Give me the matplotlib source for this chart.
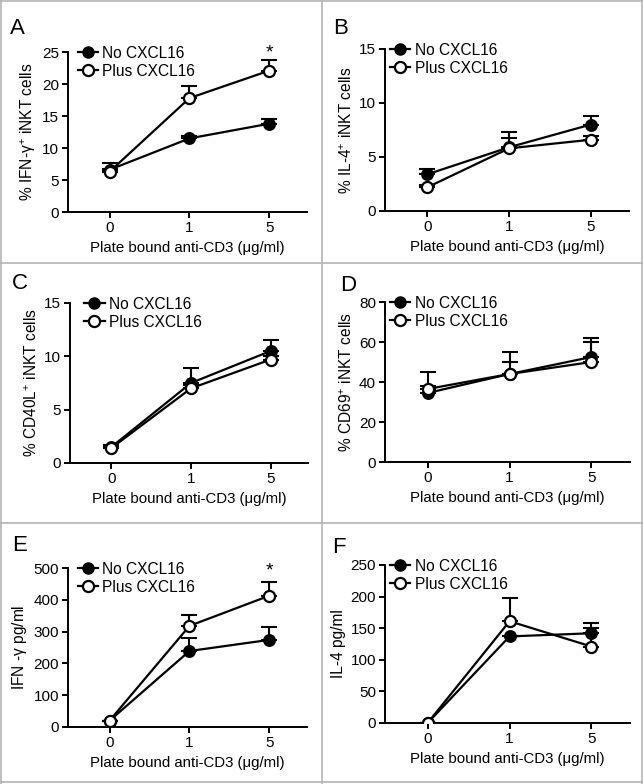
import matplotlib
matplotlib.use('Agg')
import matplotlib.pyplot as plt
from matplotlib.lines import Line2D

plt.rcParams['font.family'] = ['Liberation Sans', 'DejaVu Sans']
plt.rcParams['mathtext.fontset'] = 'custom'
plt.rcParams['mathtext.rm'] = 'Liberation Sans'
plt.rcParams['mathtext.it'] = 'Liberation Sans:italic'
plt.rcParams['mathtext.default'] = 'regular'

# data (mean, upper error)
doses = ['0', '1', '5']

a_no = [6.6, 11.5, 13.8]
a_no_err = [1.1, 0.3, 0.8]
a_plus = [6.3, 17.8, 22.1]
a_plus_err = [0.4, 1.9, 1.7]

b_no = [3.4, 5.9, 8.0]
b_no_err = [0.5, 1.4, 0.8]
b_plus = [2.2, 5.8, 6.6]
b_plus_err = [0.2, 1.0, 0.3]

c_no = [1.5, 7.5, 10.5]
c_no_err = [0.2, 1.4, 1.0]
c_plus = [1.4, 7.0, 9.7]
c_plus_err = [0.2, 0.3, 0.3]

d_no = [34.5, 44.0, 52.5]
d_no_err = [3.5, 11.0, 9.5]
d_plus = [36.5, 44.0, 50.0]
d_plus_err = [8.5, 6.0, 10.0]

e_no = [20, 239, 274]
e_no_err = [0, 40, 42]
e_plus = [20, 318, 413]
e_plus_err = [0, 35, 43]

f_no = [0, 137, 142]
f_no_err = [0, 0, 17]
f_plus = [0, 161, 121]
f_plus_err = [0, 36, 30]

W, H = 643, 784
fig = plt.figure(figsize=(W / 100, H / 100), dpi=100)


def px_axes(left, right, bottom, top):
    return fig.add_axes([left / W, 1 - bottom / H, (right - left) / W, (bottom - top) / H])


def panel(box, no, no_err, plus, plus_err, yticks, ylabel, leg_x, star=None):
    ax = px_axes(*box)
    x = list(range(len(doses)))
    ax.errorbar(x, no, yerr=[[0] * 3, no_err], fmt='none', ecolor='black',
                elinewidth=1.5, capsize=5.5, capthick=1.5, zorder=2)
    ax.errorbar(x, plus, yerr=[[0] * 3, plus_err], fmt='none', ecolor='black',
                elinewidth=1.5, capsize=5.5, capthick=1.5, zorder=2)
    ax.plot(x, no, color='black', lw=1.6, marker='o', ms=8,
            mfc='black', mec='black', mew=1.3, zorder=3)
    ax.plot(x, plus, color='black', lw=1.6, marker='o', ms=8,
            mfc='white', mec='black', mew=1.6, zorder=4)
    ax.set_xlim(-0.52, 2.47)
    ax.set_ylim(yticks[0], yticks[-1])
    ax.set_xticks(x)
    ax.set_xticklabels(doses)
    ax.set_yticks(yticks)
    for s in ['top', 'right']:
        ax.spines[s].set_visible(False)
    for s in ['left', 'bottom']:
        ax.spines[s].set_linewidth(1.4)
    ax.tick_params(direction='out', length=4.5, width=1.4, labelsize=11, pad=2)
    ax.set_xlabel('Plate bound anti-CD3 (\u03bcg/ml)', fontsize=10.8, labelpad=4)
    ax.set_ylabel(ylabel, fontsize=11.2, labelpad=3)
    ax.patch.set_alpha(0)

    handles = [
        Line2D([], [], color='black', lw=1.6, marker='o', ms=8, mfc='black', mec='black'),
        Line2D([], [], color='black', lw=1.6, marker='o', ms=8, mfc='white', mec='black', mew=1.6),
    ]
    ax.legend(handles, ['No CXCL16', 'Plus CXCL16'], loc='upper left',
              bbox_to_anchor=(leg_x, 1.04), frameon=False, fontsize=11.2,
              handlelength=1.3, handletextpad=0.3, labelspacing=0.2,
              borderaxespad=0, borderpad=0)
    if star is not None:
        ax.text(2, star, '*', ha='center', va='center', fontsize=14)
    return ax


panel((68, 307, 212, 52), a_no, a_no_err, a_plus, a_plus_err,
      [0, 5, 10, 15, 20, 25], '% IFN-$\\gamma^{+}$ iNKT cells', 0.04, star=24.9)
panel((385, 629, 211, 49), b_no, b_no_err, b_plus, b_plus_err,
      [0, 5, 10, 15], '% IL-4$^{+}$ iNKT cells', 0.02)
panel((70, 308, 463, 303), c_no, c_no_err, c_plus, c_plus_err,
      [0, 5, 10, 15], '% CD40L$^{+}$ iNKT cells', 0.06)
panel((385, 630, 462, 302), d_no, d_no_err, d_plus, d_plus_err,
      [0, 20, 40, 60, 80], '% CD69$^{+}$ iNKT cells', 0.02)
panel((68, 307, 727, 568), e_no, e_no_err, e_plus, e_plus_err,
      [0, 100, 200, 300, 400, 500], 'IFN -$\\gamma$ pg/ml', 0.04, star=492)
panel((385, 630, 723, 565), f_no, f_no_err, f_plus, f_plus_err,
      [0, 50, 100, 150, 200, 250], 'IL-4 pg/ml', 0.02)

# panel letters
letters = [('A', 10, 18), ('B', 333, 18), ('C', 12, 273), ('D', 340, 275),
           ('E', 12, 535), ('F', 332, 537)]
for t, lx, ly in letters:
    fig.text(lx / W, 1 - ly / H, t, fontsize=16, ha='left', va='top')

# grey panel frame
grey = '#b4b4b4'
for xs, ys in [([321.5, 321.5], [0, H]), ([0, W], [262.5, 262.5]), ([0, W], [523, 523]),
               ([1, 1], [0, H]), ([W - 1, W - 1], [0, H]), ([0, W], [1, 1]), ([0, W], [H - 2, H - 2])]:
    fig.add_artist(Line2D([x / W for x in xs], [1 - y / H for y in ys], color=grey, lw=1.2))

fig.savefig('out.png', dpi=100, facecolor='white')
